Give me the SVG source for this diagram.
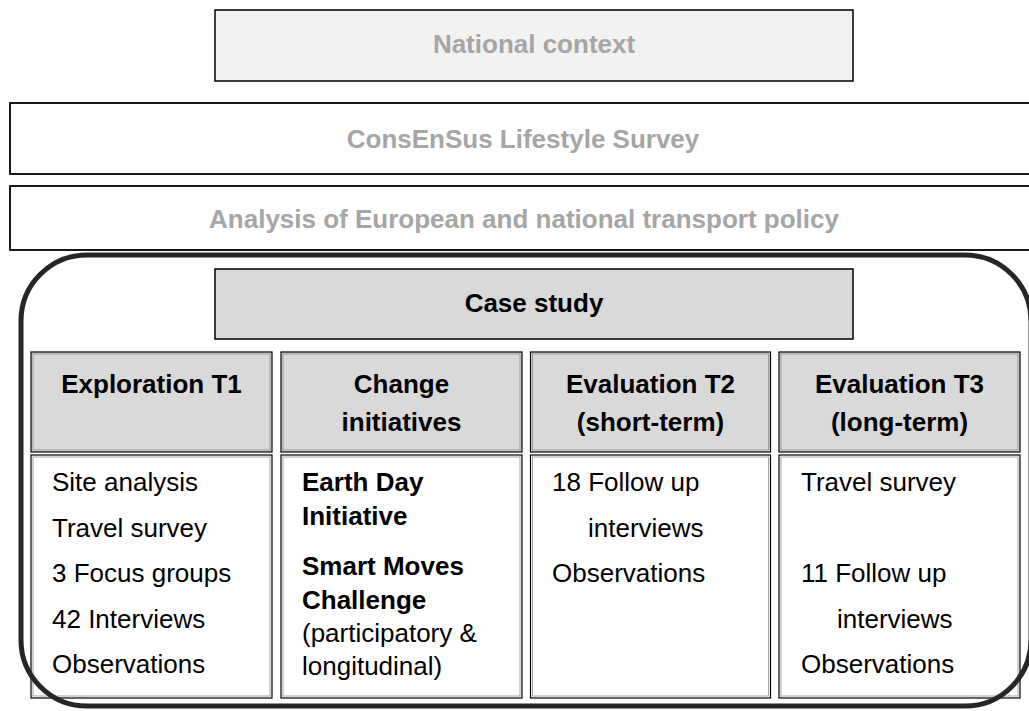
<svg xmlns="http://www.w3.org/2000/svg" width="1029" height="711" viewBox="0 0 1029 711">
  <style>
    text { font-family: "Liberation Sans", Arial, sans-serif; font-size: 26px; }
    .ctx { font-weight: bold; fill: #a6a6a6; text-anchor: middle; }
    .frame { fill: #ffffff; stroke: #000000; stroke-width: 1.8; }
    .head { font-weight: bold; fill: #000000; text-anchor: middle; }
    .cell-outer { stroke: #000000; stroke-width: 1.2; }
    .cell-inner { fill: none; stroke: #8c8c8c; stroke-width: 0.8; }
    .hdr { fill: #d9d9d9; }
    .body { fill: #ffffff; }
    .item { fill: #000000; }
    .b { font-weight: bold; }
  </style>
  <rect width="1029" height="711" fill="#ffffff"/>

  <!-- Context layers -->
  <g id="national-context">
    <rect x="215" y="10" width="638" height="71" fill="#f2f2f2" stroke="#000000" stroke-width="1.5"/>
    <text class="ctx" x="534" y="53">National context</text>
  </g>
  <g id="lifestyle-survey">
    <rect class="frame" x="10" y="103" width="1030" height="71"/>
    <text class="ctx" x="523" y="148">ConsEnSus Lifestyle Survey</text>
  </g>
  <g id="policy-analysis">
    <rect class="frame" x="10" y="186" width="1030" height="64"/>
    <text class="ctx" x="524" y="228">Analysis of European and national transport policy</text>
  </g>

  <!-- Case study -->
  <g id="case-study">
    <rect x="215" y="269" width="638" height="70" fill="#d9d9d9" stroke="#000000" stroke-width="1.5"/>
    <text class="head" x="534" y="312">Case study</text>
  </g>

  <!-- Phase columns: header cell + content cell -->
  <g id="exploration-t1">
    <rect class="cell-outer hdr" x="31" y="352" width="241" height="100"/>
    <rect class="cell-inner" x="33" y="354" width="237" height="96"/>
    <text class="head" x="151.5" y="393">Exploration T1</text>
    <rect class="cell-outer body" x="31" y="455" width="241" height="243"/>
    <rect class="cell-inner" x="33" y="457" width="237" height="239"/>
    <text class="item" x="52" y="491">Site analysis</text>
    <text class="item" x="52" y="536.5">Travel survey</text>
    <text class="item" x="52" y="582">3 Focus groups</text>
    <text class="item" x="52" y="627.5">42 Interviews</text>
    <text class="item" x="52" y="673">Observations</text>
  </g>

  <g id="change-initiatives">
    <rect class="cell-outer hdr" x="281" y="352" width="241" height="100"/>
    <rect class="cell-inner" x="283" y="354" width="237" height="96"/>
    <text class="head" x="401.5" y="393">Change</text>
    <text class="head" x="401.5" y="431">initiatives</text>
    <rect class="cell-outer body" x="281" y="455" width="241" height="243"/>
    <rect class="cell-inner" x="283" y="457" width="237" height="239"/>
    <text class="item b" x="302" y="491">Earth Day</text>
    <text class="item b" x="302" y="524.5">Initiative</text>
    <text class="item b" x="302" y="575">Smart Moves</text>
    <text class="item b" x="302" y="608.5">Challenge</text>
    <text class="item" x="302" y="642">(participatory &amp;</text>
    <text class="item" x="302" y="675">longitudinal)</text>
  </g>

  <g id="evaluation-t2">
    <rect class="cell-outer hdr" x="530.5" y="352" width="240" height="100"/>
    <rect class="cell-inner" x="532.5" y="354" width="236" height="96"/>
    <text class="head" x="650.5" y="393">Evaluation T2</text>
    <text class="head" x="650.5" y="431">(short-term)</text>
    <rect class="cell-outer body" x="530.5" y="455" width="240" height="243"/>
    <rect class="cell-inner" x="532.5" y="457" width="236" height="239"/>
    <text class="item" x="552" y="491">18 Follow up</text>
    <text class="item" x="588" y="536.5">interviews</text>
    <text class="item" x="552" y="582">Observations</text>
  </g>

  <g id="evaluation-t3">
    <rect class="cell-outer hdr" x="779" y="352" width="241" height="100"/>
    <rect class="cell-inner" x="781" y="354" width="237" height="96"/>
    <text class="head" x="899.5" y="393">Evaluation T3</text>
    <text class="head" x="899.5" y="431">(long-term)</text>
    <rect class="cell-outer body" x="779" y="455" width="241" height="243"/>
    <rect class="cell-inner" x="781" y="457" width="237" height="239"/>
    <text class="item" x="801" y="491">Travel survey</text>
    <text class="item" x="801" y="582">11 Follow up</text>
    <text class="item" x="837" y="627.5">interviews</text>
    <text class="item" x="801" y="673">Observations</text>
  </g>

  <!-- Rounded boundary around the case study -->
  <g id="connectors">
    <rect x="21" y="255" width="1010" height="451" rx="66" ry="66" fill="none" stroke="#262626" stroke-width="5"/>
  </g>
</svg>
